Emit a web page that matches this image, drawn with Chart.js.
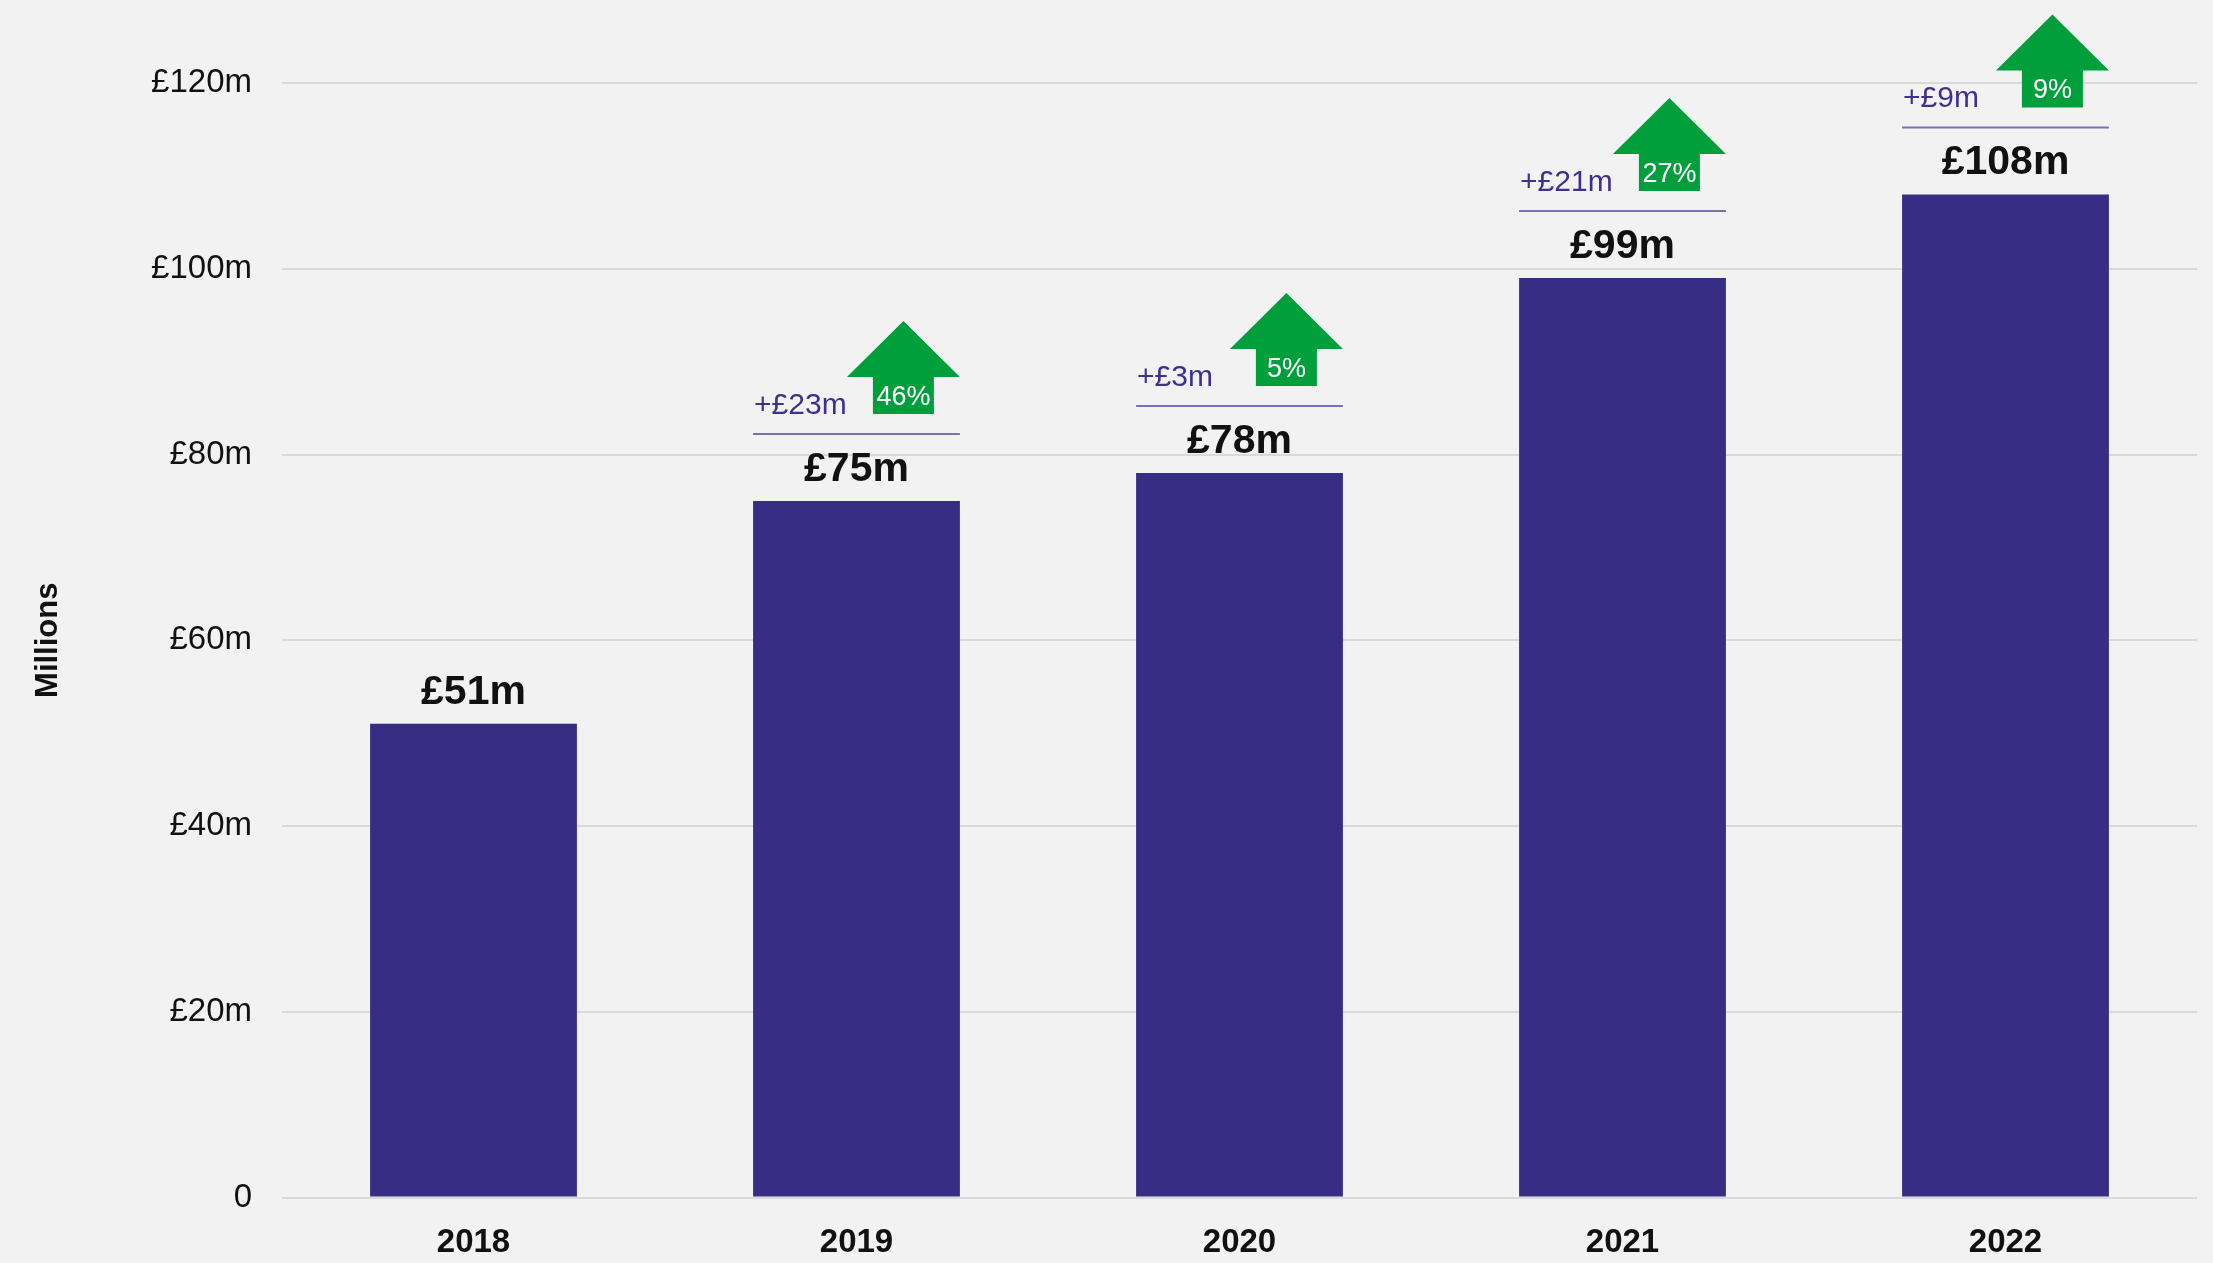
<!DOCTYPE html>
<html lang="en">
<head>
<meta charset="utf-8">
<title>Revenue 2018–2022</title>
<script src="https://cdn.jsdelivr.net/npm/chart.js@4.4.1/dist/chart.umd.min.js"></script>
<style>
  html, body { margin: 0; padding: 0; background: #f2f2f2; }
  #wrap { position: relative; width: 2213px; height: 1263px; }
</style>
</head>
<body>
<div id="wrap"><canvas id="chart"></canvas></div>
<script>
// Annual revenue, £ millions
const years = ['2018', '2019', '2020', '2021', '2022'];
const revenue = [51, 75, 78, 99, 108];
// Year-on-year change in £m and in percent (none for the first year)
const changeAmount = [null, 23, 3, 21, 9];
const changePercent = [null, 46, 5, 27, 9];
// Y axis ticks
const yTicks = [0, 20, 40, 60, 80, 100, 120];

const FONT = '"Liberation Sans", Arial, Helvetica, sans-serif';
const BAR = '#382d84';
const GREEN = '#009f3c';
const PURPLE_TEXT = '#3d318e';
const RULE = '#7a70b4';

// Value labels, change rules and growth arrows above each bar
const annotations = {
  id: 'barAnnotations',
  afterDatasetsDraw(chart) {
    const ctx = chart.ctx;
    const meta = chart.getDatasetMeta(0);
    ctx.save();
    meta.data.forEach((bar, i) => {
      const x = bar.x;
      const top = bar.y;
      const half = bar.width / 2;
      const left = x - half;
      const right = x + half;

      ctx.fillStyle = '#111111';
      ctx.font = 'bold 41px ' + FONT;
      ctx.textAlign = 'center';
      ctx.textBaseline = 'alphabetic';
      ctx.fillText('£' + revenue[i] + 'm', x, top - 20);

      if (changeAmount[i] == null) return;

      // thin rule over the bar
      ctx.strokeStyle = RULE;
      ctx.lineWidth = 2;
      ctx.beginPath();
      ctx.moveTo(left, top - 67);
      ctx.lineTo(right, top - 67);
      ctx.stroke();

      // change in £m
      ctx.fillStyle = PURPLE_TEXT;
      ctx.font = '30px ' + FONT;
      ctx.textAlign = 'left';
      ctx.fillText('+£' + changeAmount[i] + 'm', left + 1, top - 87);

      // up arrow
      const headW = 113, stemW = 61;
      const cx = right - headW / 2;
      const tipY = top - 180, headY = top - 124, stemY = top - 87;
      ctx.fillStyle = GREEN;
      ctx.beginPath();
      ctx.moveTo(cx, tipY);
      ctx.lineTo(cx + headW / 2, headY);
      ctx.lineTo(cx + stemW / 2, headY);
      ctx.lineTo(cx + stemW / 2, stemY);
      ctx.lineTo(cx - stemW / 2, stemY);
      ctx.lineTo(cx - stemW / 2, headY);
      ctx.lineTo(cx - headW / 2, headY);
      ctx.closePath();
      ctx.fill();

      ctx.fillStyle = '#ffffff';
      ctx.font = '27px ' + FONT;
      ctx.textAlign = 'center';
      ctx.fillText(changePercent[i] + '%', cx, top - 96);
    });
    ctx.restore();
  }
};

new Chart(document.getElementById('chart'), {
  type: 'bar',
  data: {
    labels: years,
    datasets: [{
      data: revenue,
      backgroundColor: BAR,
      borderWidth: 0,
      barPercentage: 0.54,
      categoryPercentage: 1
    }]
  },
  options: {
    responsive: true,
    maintainAspectRatio: false,
    animation: false,
    layout: { padding: { top: 83, right: 16, left: 0, bottom: 0 } },
    plugins: {
      legend: { display: false },
      tooltip: { enabled: false }
    },
    scales: {
      x: {
        grid: { display: false, drawTicks: false },
        border: { display: false },
        ticks: {
          color: '#111111',
          padding: 26,
          font: { family: FONT, size: 33, weight: 'bold' }
        },
        afterFit(scale) { scale.height = 65.5; }
      },
      y: {
        min: 0,
        max: 120,
        afterBuildTicks(scale) { scale.ticks = yTicks.map(v => ({ value: v })); },
        grid: { color: '#d9d9d9', lineWidth: 2, drawTicks: false },
        border: { display: false },
        ticks: {
          color: '#111111',
          padding: 30,
          font: { family: FONT, size: 33 },
          callback: v => (v === 0 ? '0' : '£' + v + 'm')
        },
        title: {
          display: true,
          text: 'Millions',
          color: '#111111',
          padding: { top: 30, bottom: 0 },
          font: { family: FONT, size: 31, weight: 'bold' }
        },
        afterFit(scale) { scale.width = 282; }
      }
    }
  },
  plugins: [annotations]
});
</script>
</body>
</html>
